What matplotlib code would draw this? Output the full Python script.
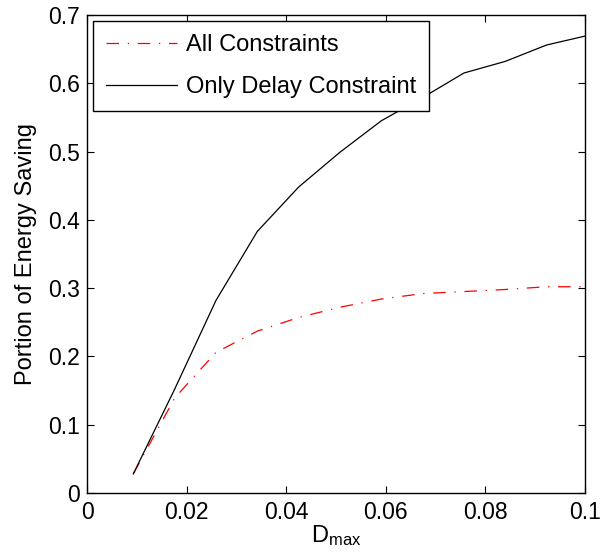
import matplotlib
matplotlib.use('Agg')
from matplotlib import pyplot as plt

plt.rcParams['font.family'] = ['Liberation Sans', 'DejaVu Sans']
plt.rcParams['mathtext.fontset'] = 'custom'
plt.rcParams['mathtext.rm'] = 'Liberation Sans'

# D_max values (x) and energy saving portions
d_max = [0.0093, 0.0176, 0.0259, 0.0342, 0.0425, 0.0508, 0.0591, 0.0674, 0.0757, 0.0840, 0.0923, 0.1000]
all_constraints = [0.028, 0.139, 0.206, 0.237, 0.257, 0.272, 0.284, 0.292, 0.295, 0.298, 0.302, 0.302]
delay_only = [0.028, 0.152, 0.282, 0.383, 0.448, 0.499, 0.545, 0.579, 0.615, 0.632, 0.656, 0.669]

fig = plt.figure(figsize=(6, 5.53), dpi=100)
ax = fig.add_axes([0.145, 0.1085, 0.83, 0.8645])

ax.plot(d_max, all_constraints, color='red', lw=0.9, dashes=(10, 7, 1, 7), label='All Constraints')
ax.plot(d_max, delay_only, color='black', lw=0.9, label='Only Delay Constraint')

ax.set_xlim(0, 0.1)
ax.set_ylim(0, 0.7)
ax.set_xticks([0, 0.02, 0.04, 0.06, 0.08, 0.1])
ax.set_xticklabels(['0', '0.02', '0.04', '0.06', '0.08', '0.1'])
ax.set_yticks([0, 0.1, 0.2, 0.3, 0.4, 0.5, 0.6, 0.7])
ax.set_yticklabels(['0', '0.1', '0.2', '0.3', '0.4', '0.5', '0.6', '0.7'])
ax.tick_params(direction='in', top=True, right=True, labelsize=16.5, length=5, width=0.8)
ax.tick_params(axis='x', pad=6)
ax.tick_params(axis='y', pad=5)
for s in ax.spines.values():
    s.set_linewidth(1.0)

ax.set_xlabel(r'$\mathregular{D_{max}}$', fontsize=17, labelpad=-1)
ax.set_ylabel('Portion of Energy Saving', fontsize=17, labelpad=8)

leg = ax.legend(loc='upper left', fontsize=17, fancybox=False, framealpha=1,
                edgecolor='black', handlelength=3.0, handletextpad=0.4,
                borderpad=0.55, labelspacing=0.85, borderaxespad=0.25)
leg.get_frame().set_linewidth(1.0)

plt.savefig('out.png', dpi=100)
